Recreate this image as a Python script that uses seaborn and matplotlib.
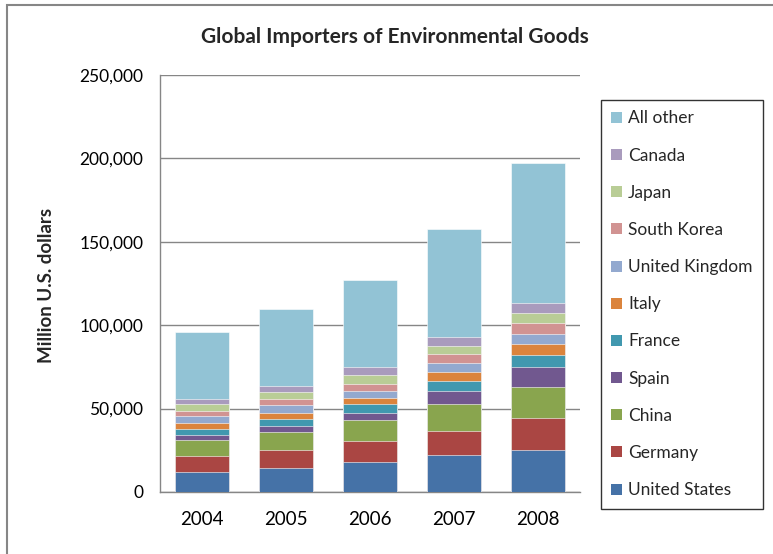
import matplotlib
matplotlib.use("Agg")
import matplotlib.pyplot as plt
import matplotlib.patches as mpatches
import seaborn as sns
import pandas as pd
import numpy as np

years = ["2004", "2005", "2006", "2007", "2008"]
countries = ["United States", "Germany", "China", "Spain", "France", "Italy",
             "United Kingdom", "South Korea", "Japan", "Canada", "All other"]
united_states = [12000, 14400, 17700, 21900, 24900]
germany = [9300, 10500, 12600, 14800, 19600]
china = [9600, 11200, 13000, 16000, 18700]
spain = [3000, 3600, 4200, 7600, 11800]
france = [4000, 4200, 5000, 6400, 7000]
italy = [3600, 3600, 3800, 5300, 6600]
united_kingdom = [4200, 4600, 4500, 5400, 6400]
south_korea = [2800, 3600, 4200, 5200, 6600]
japan = [4000, 4500, 5200, 5000, 5800]
canada = [3500, 3600, 4800, 5200, 6000]
all_other = [40200, 45900, 52200, 64700, 83800]

series = [united_states, germany, china, spain, france, italy,
          united_kingdom, south_korea, japan, canada, all_other]
colors = ["#4572A7", "#AA4643", "#89A54E", "#71588F", "#4198AF", "#DB843D",
          "#93A9CF", "#D19392", "#B9CD96", "#A99BBD", "#92C3D5"]

sns.set_theme(style="white")
plt.rcParams["font.family"] = ["Lato", "DejaVu Sans"]

fig = plt.figure(figsize=(7.73, 5.54), dpi=100)
ax = fig.add_axes([160/773, 1-492/554, 420/773, (492-75)/554])

cum = np.cumsum(np.array(series), axis=0)
for i in range(len(countries)-1, -1, -1):
    df = pd.DataFrame({"year": years, "value": cum[i]})
    sns.barplot(data=df, x="year", y="value", color=colors[i], width=0.64,
                saturation=1, edgecolor="white", linewidth=0.4, ax=ax, zorder=3)

ax.set_ylim(0, 250000)
ax.set_xlim(-0.5, 4.5)
ax.set_yticks(range(0, 250001, 50000))
ax.set_yticklabels([f"{v:,}" for v in range(0, 250001, 50000)])
ax.yaxis.grid(True, color="#868686", linewidth=1.0, zorder=0)
ax.set_axisbelow(True)
for s in ["top", "right"]:
    ax.spines[s].set_visible(False)
for s in ["left", "bottom"]:
    ax.spines[s].set_color("#868686")
    ax.spines[s].set_linewidth(1.0)
ax.tick_params(axis="y", length=0, pad=12, labelsize=12.5, labelcolor="black")
ax.tick_params(axis="x", length=0, pad=14, labelsize=13.5, labelcolor="black")
ax.set_xlabel("")
ax.set_ylabel("")
fig.text(47/773, 1-285/554, "Million U.S. dollars", rotation=90,
         ha="center", va="center", fontsize=13.5, fontweight="bold")

fig.text(395/773, 1-37/554, "Global Importers of Environmental Goods",
         ha="center", va="center", fontsize=15, fontweight="bold")

handles = [mpatches.Patch(facecolor=colors[i], edgecolor="none", label=countries[i])
           for i in range(len(countries)-1, -1, -1)]
leg = fig.legend(handles=handles, loc="upper left",
                 bbox_to_anchor=(601/773, 1-100/554), frameon=True,
                 fontsize=12.5, handlelength=0.6, handleheight=0.6,
                 handletextpad=0.35, labelspacing=1.22, borderpad=0.6,
                 borderaxespad=0, fancybox=False)
leg.get_frame().set_edgecolor("black")
leg.get_frame().set_linewidth(1.0)

fig.add_artist(mpatches.Rectangle((7/773, -0.1), 1.2, 1-5/554+0.1,
                                  transform=fig.transFigure, fill=False,
                                  edgecolor="#868686", linewidth=1.5))

fig.savefig("out.png", dpi=100)
